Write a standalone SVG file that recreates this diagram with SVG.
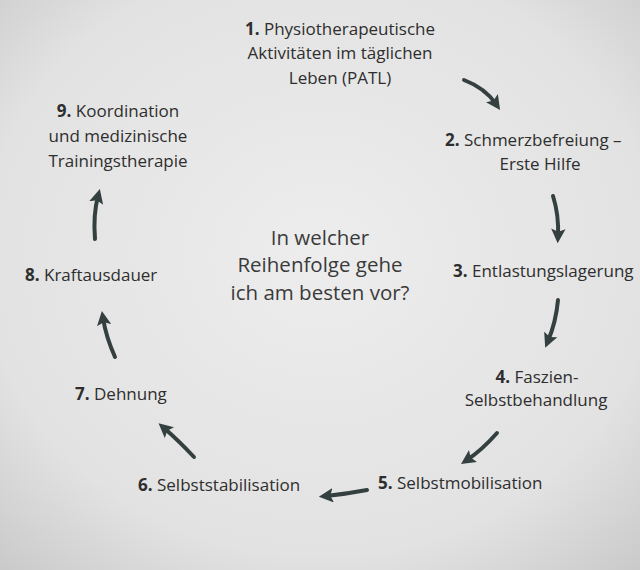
<svg xmlns="http://www.w3.org/2000/svg" width="640" height="570" viewBox="0 0 640 570">
<defs>
<radialGradient id="bg" cx="0.5" cy="0.45" r="0.75">
<stop offset="0" stop-color="#ededed"/><stop offset="0.7" stop-color="#e2e2e2"/><stop offset="1" stop-color="#c9c9c9"/>
</radialGradient>
<marker id="ah" viewBox="0 0 10 10" refX="5" refY="5" markerWidth="3.6" markerHeight="3.6" orient="auto">
<path d="M0,0 L10,5 L0,10 L2,5 Z" fill="#34403f"/>
</marker>
<style>
text{font-family:"Open Sans","DejaVu Sans",sans-serif;font-size:17px;fill:#2e2e2e}
.b{font-weight:bold}
.c{font-size:20.5px;fill:#3a3a3a}
.a{fill:none;stroke:#34403f;stroke-width:4;stroke-linecap:round;marker-end:url(#ah)}
</style>
</defs>
<rect width="640" height="570" fill="url(#bg)"/>
<g id="connectors">
<path class="a" d="M464,80 Q485,88 496,104"/>
<path class="a" d="M553,196 Q559,215 558,236"/>
<path class="a" d="M558,300 Q556,322 548,341"/>
<path class="a" d="M497,433 Q482,450 467,460"/>
<path class="a" d="M367,490 Q346,494 326,496"/>
<path class="a" d="M194,457 Q178,440 164,428"/>
<path class="a" d="M115,357 Q106,337 103,318"/>
<path class="a" d="M95,239 Q93,215 98,196"/>
</g>
<g id="n1" text-anchor="middle">
<text x="340" y="35"><tspan class="b">1.</tspan> Physiotherapeutische</text>
<text x="340" y="59">Aktivitäten im täglichen</text>
<text x="340" y="84">Leben (PATL)</text>
</g>
<g id="n2"><text x="445" y="146"><tspan class="b">2.</tspan> Schmerzbefreiung –</text>
<text x="540" y="170" text-anchor="middle">Erste Hilfe</text></g>
<g id="n3"><text x="453" y="277"><tspan class="b">3.</tspan> Entlastungslagerung</text></g>
<g id="n4" text-anchor="middle"><text x="537" y="383"><tspan class="b">4.</tspan> Faszien-</text>
<text x="536" y="406">Selbstbehandlung</text></g>
<g id="n5"><text x="378" y="489"><tspan class="b">5.</tspan> Selbstmobilisation</text></g>
<g id="n6"><text x="138" y="491"><tspan class="b">6.</tspan> Selbststabilisation</text></g>
<g id="n7"><text x="75" y="400"><tspan class="b">7.</tspan> Dehnung</text></g>
<g id="n8"><text x="25" y="281"><tspan class="b">8.</tspan> Kraftausdauer</text></g>
<g id="n9" text-anchor="middle"><text x="118" y="117"><tspan class="b">9.</tspan> Koordination</text>
<text x="118" y="142">und medizinische</text>
<text x="118" y="167">Trainingstherapie</text></g>
<g id="center" text-anchor="middle">
<text class="c" x="320" y="245">In welcher</text>
<text class="c" x="320" y="272">Reihenfolge gehe</text>
<text class="c" x="320" y="300">ich am besten vor?</text>
</g>
</svg>
